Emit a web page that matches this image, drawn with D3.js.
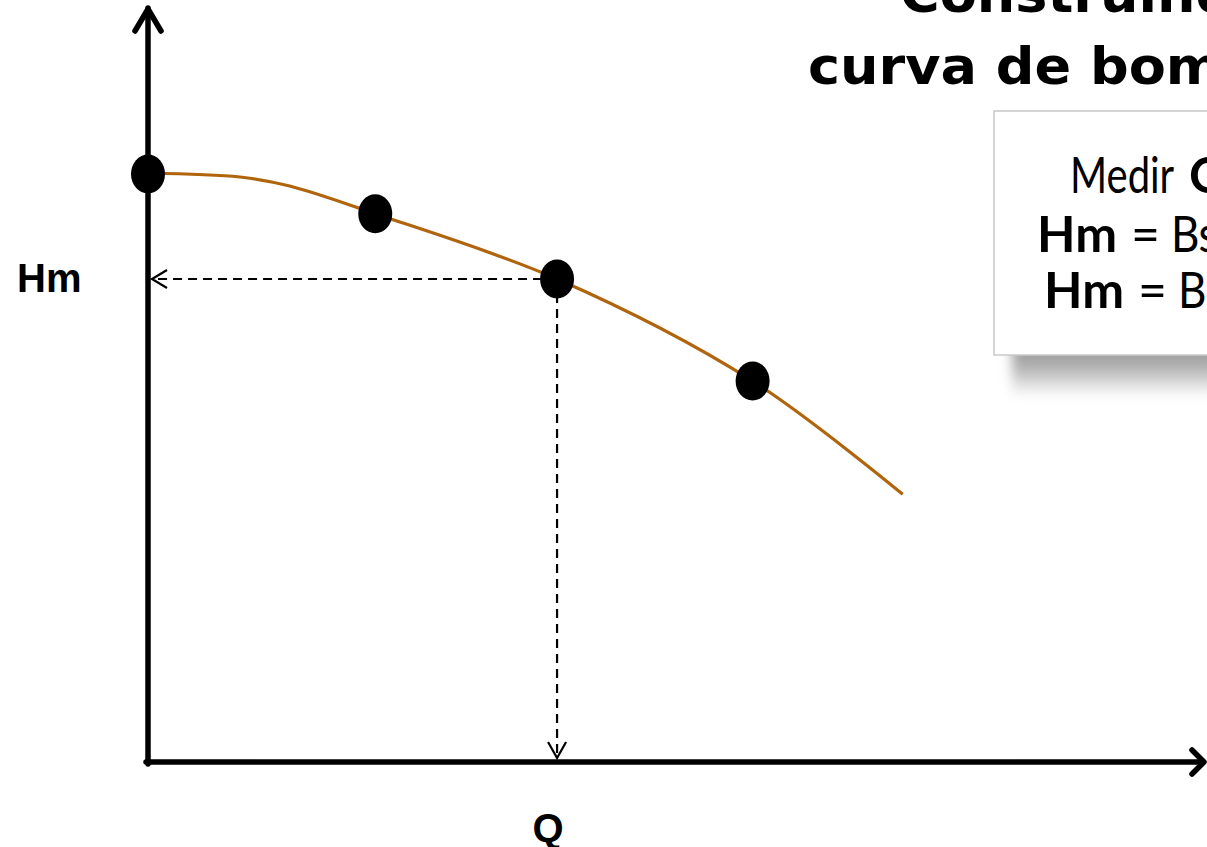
<!DOCTYPE html>
<html><head><meta charset="utf-8">
<script src="https://cdn.jsdelivr.net/npm/d3@7"></script>
<style>html,body{margin:0;padding:0;background:#fff;overflow:hidden}</style>
</head><body>
<script>
// Measured pump-curve points (arbitrary units)
const pointQ = [0, 21.5, 38.7, 57.2];
const pointH = [78.4, 73.1, 64.4, 50.8];
// Fitted curve
const curveQ = [0, 8.7, 13.4, 21.5, 38.7, 57.2, 71.4];
const curveH = [78.5, 78.0, 76.8, 73.1, 64.4, 50.8, 35.7];
// Operating point used for the dashed reading lines
const readQ = 38.7, readH = 64.4;
const titleLines = ["Construindo a", "curva de bomba"];
const xLabel = "Q", yLabel = "Hm";

const W = 1207, H = 847;
const svg = d3.select("body").append("svg").attr("width", W).attr("height", H);
const x = d3.scaleLinear().domain([0, 100]).range([148, 1205]);
const y = d3.scaleLinear().domain([0, 100]).range([762, 12]);

const defs = svg.append("defs");
const f = defs.append("filter").attr("id", "blur").attr("x", "-20%").attr("y", "-50%").attr("width", "140%").attr("height", "200%");
f.append("feGaussianBlur").attr("stdDeviation", 6);
const g = defs.append("linearGradient").attr("id", "shg").attr("x1", 0).attr("y1", 0).attr("x2", 0).attr("y2", 1);
g.append("stop").attr("offset", 0).attr("stop-color", "#9a9a9a");
g.append("stop").attr("offset", 0.45).attr("stop-color", "#a8a8a8");
g.append("stop").attr("offset", 1).attr("stop-color", "#ffffff");

// Title
const title = svg.append("g").attr("font-family", "DejaVu Sans").attr("font-weight", "bold").attr("font-size", 52).attr("fill", "#000");
title.append("text").attr("transform", "translate(900,12) scale(1.04,1)").text(titleLines[0]);
title.append("text").attr("transform", "translate(808,84) scale(1.04,1)").text(titleLines[1]);

// Info box with shadow
svg.append("rect").attr("x", 1012).attr("y", 335).attr("width", 260).attr("height", 62)
  .attr("fill", "url(#shg)").attr("filter", "url(#blur)");
svg.append("rect").attr("x", 994).attr("y", 111).attr("width", 260).attr("height", 244)
  .attr("fill", "#fff").attr("stroke", "#c8c8c8").attr("stroke-width", 1.5);
const box = svg.append("g").attr("font-family", "Lato").attr("font-size", 50).attr("fill", "#000");
box.append("text").attr("transform", "translate(1070,193) scale(0.8,1)").text("Medir");
box.append("text").attr("x", 1189).attr("y", 193).attr("font-weight", "bold").text("Q e P");
[[1037, 252], [1044, 308]].forEach(([bx, by]) => {
  box.append("text").attr("x", bx).attr("y", by).attr("font-weight", "bold").text("Hm");
  box.append("text").attr("x", bx + 94).attr("y", by).text("=");
  box.append("text").attr("transform", `translate(${bx + 134},${by}) scale(0.88,1)`).text("Bs − Be");
});

// Axes
const axes = svg.append("g").attr("stroke", "#000").attr("fill", "none").attr("stroke-width", 5.5)
  .attr("stroke-linecap", "round").attr("stroke-linejoin", "round");
axes.append("line").attr("x1", x(0)).attr("y1", y(0) + 2).attr("x2", x(0)).attr("y2", 8);
axes.append("path").attr("d", `M${x(0) - 13},31 L${x(0)},9 L${x(0) + 13},31`);
axes.append("line").attr("x1", x(0) - 2).attr("y1", y(0)).attr("x2", 1203).attr("y2", y(0));
axes.append("path").attr("d", `M1192,${y(0) - 12} L1204,${y(0)} L1192,${y(0) + 12}`);

// Dashed reading lines
const dash = svg.append("g").attr("stroke", "#000").attr("fill", "none").attr("stroke-width", 2.2);
dash.append("line").attr("x1", x(readQ)).attr("y1", y(readH)).attr("x2", x(0) + 4).attr("y2", y(readH)).attr("stroke-dasharray", "9,6");
dash.append("path").attr("d", `M${x(0) + 19},${y(readH) - 9} L${x(0) + 4},${y(readH)} L${x(0) + 19},${y(readH) + 9}`);
dash.append("line").attr("x1", x(readQ)).attr("y1", y(readH)).attr("x2", x(readQ)).attr("y2", y(0) - 4).attr("stroke-dasharray", "9,6");
dash.append("path").attr("d", `M${x(readQ) - 9},${y(0) - 20} L${x(readQ)},${y(0) - 4} L${x(readQ) + 9},${y(0) - 20}`);

// Curve
const curveData = curveQ.map((q, i) => [q, curveH[i]]);
svg.append("path").datum(curveData)
  .attr("d", d3.line().x(d => x(d[0])).y(d => y(d[1])).curve(d3.curveCatmullRom.alpha(0.5)))
  .attr("fill", "none").attr("stroke", "#b0640c").attr("stroke-width", 3.2);

// Points
svg.selectAll("ellipse.pt").data(pointQ.map((q, i) => [q, pointH[i]])).join("ellipse")
  .attr("class", "pt").attr("cx", d => x(d[0])).attr("cy", d => y(d[1]))
  .attr("rx", 17).attr("ry", 19.5).attr("fill", "#000");

// Axis labels
const lab = svg.append("g").attr("font-family", "Liberation Sans").attr("font-weight", "bold").attr("font-size", 40).attr("fill", "#000");
lab.append("text").attr("x", 17).attr("y", 292).text(yLabel);
lab.append("text").attr("x", 548).attr("y", 842).attr("text-anchor", "middle").text(xLabel);
</script>
</body></html>
